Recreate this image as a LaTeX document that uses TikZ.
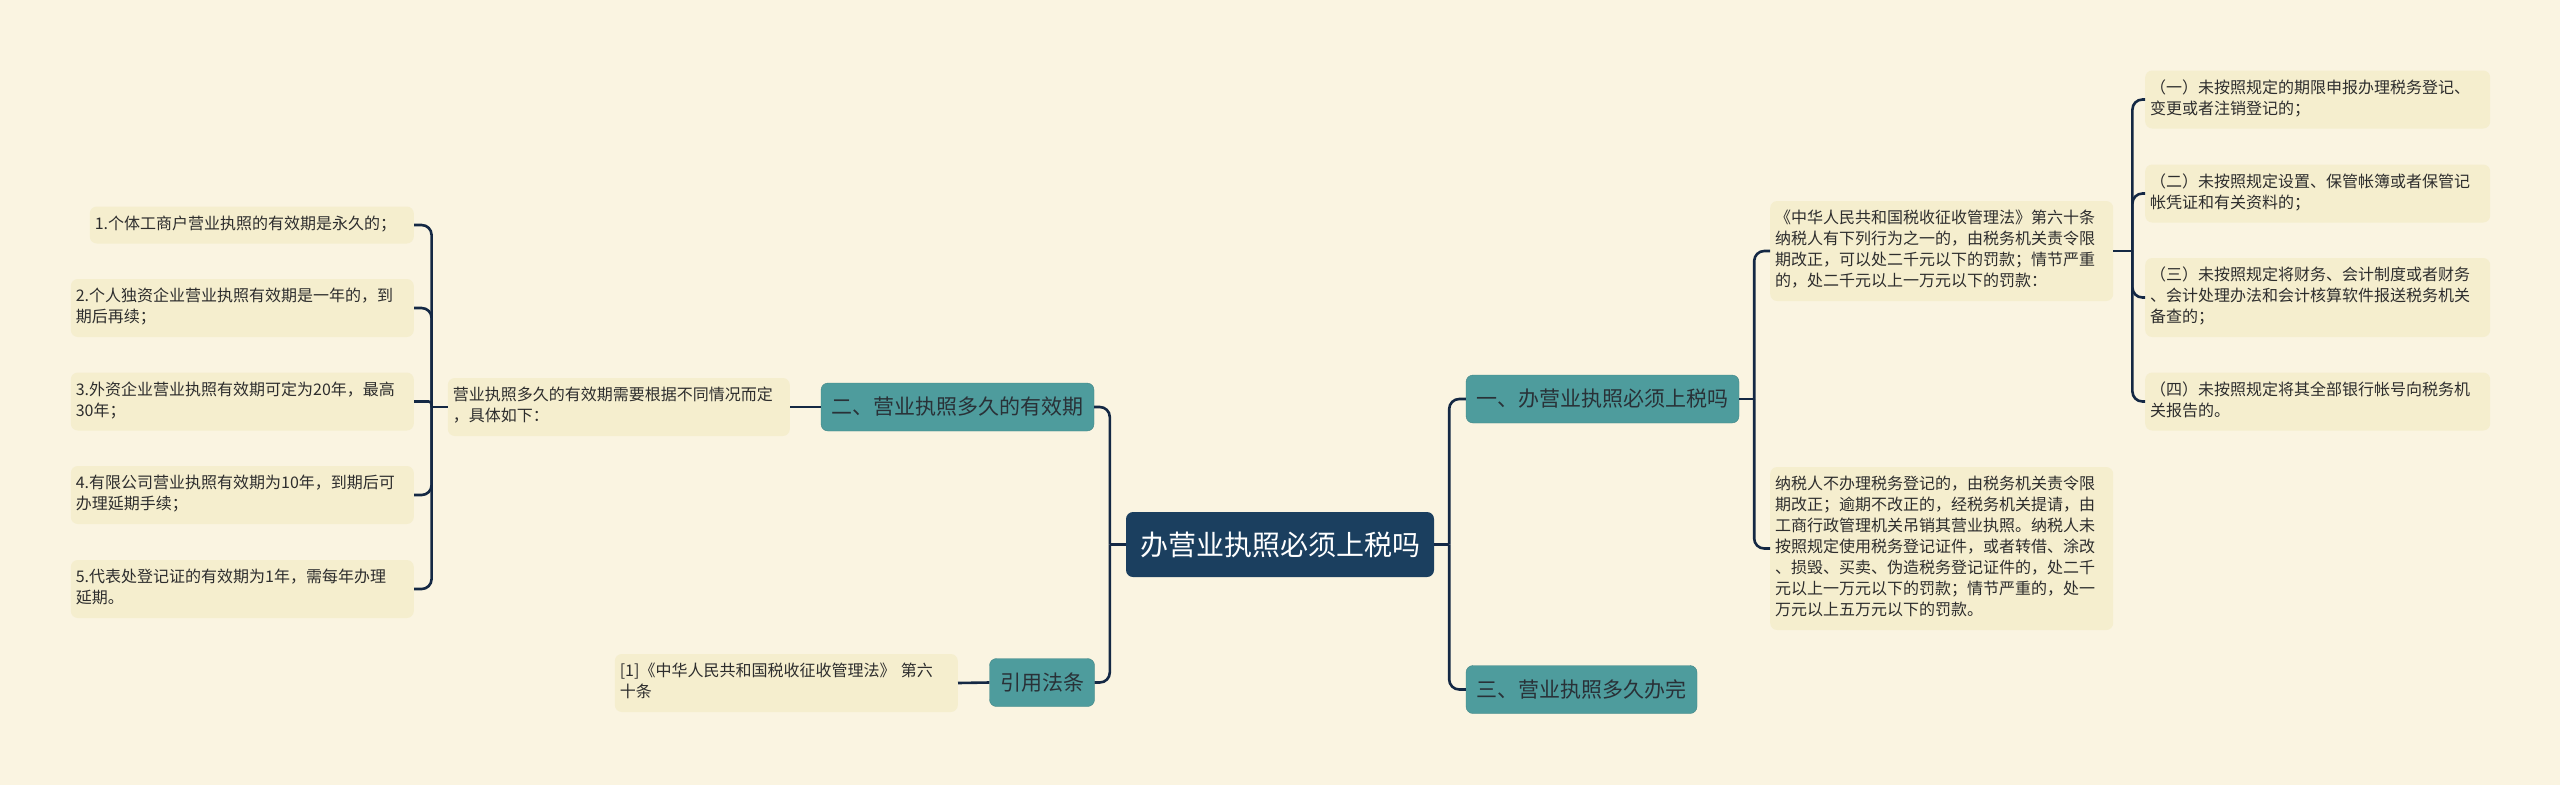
\documentclass[tikz,border=0pt]{standalone}
\usepackage{fontspec}
\setmainfont{Noto Sans CJK SC}
\usepackage{tikz}
\usepackage{xcolor}
\definecolor{ColBg}{RGB}{250,244,225}
\definecolor{ColLeaf}{RGB}{245,238,206}
\definecolor{ColTeal}{RGB}{78,156,157}
\definecolor{ColRoot}{RGB}{27,63,95}
\definecolor{ColLine}{RGB}{20,40,68}
\definecolor{ColText}{RGB}{45,45,45}
\tikzstyle{NodeRoot}=[rectangle,rounded corners=7pt,fill=ColRoot,text=white,minimum height=65pt,
inner xsep=14pt,font=\fontsize{28}{34}\selectfont]
\tikzstyle{NodeBranch}=[rectangle,rounded corners=7pt,fill=ColTeal,draw=ColTeal!85!black,
text=ColText!80!ColRoot,minimum height=48pt,inner xsep=10.5pt,font=\fontsize{21}{26}\selectfont]
\tikzstyle{NodeLeaf}=[rectangle,rounded corners=7pt,fill=ColLeaf,text=ColText,align=left,
text width=333pt,inner xsep=5pt,inner ysep=8pt,font=\fontsize{16}{21}\selectfont,
execute at begin node=\strut,execute at end node=\strut]
\tikzstyle{EdgeMap}=[ColLine,line width=2.6pt,rounded corners=10pt]

\begin{document}
\begin{tikzpicture}[x=1pt,y=-1pt]
        \fill[ColBg](0,0)rectangle(2560,785);
        % centre and main branches
        \node[NodeRoot](root)at(1280,544.5){办营业执照必须上税吗};
        \node[NodeBranch](valid)at(957.5,407){二、营业执照多久的有效期};
        \node[NodeBranch](cite)at(1042,682.5){引用法条};
        \node[NodeBranch](tax)at(1602.5,399){一、办营业执照必须上税吗};
        \node[NodeBranch](time)at(1581.5,689.5){三、营业执照多久办完};
        % left side
        \node[NodeLeaf,anchor=east,text width=332pt](validtxt)at(790,407){营业执照多久的有效期需要根据不同情况而定\\，具体如下：};
        \node[NodeLeaf,anchor=east,text width=314pt](case1)at(414,225){1.个体工商户营业执照的有效期是永久的；};
        \node[NodeLeaf,anchor=east](case2)at(414,308){2.个人独资企业营业执照有效期是一年的，到\\期后再续；};
        \node[NodeLeaf,anchor=east](case3)at(414,401.5){3.外资企业营业执照有效期可定为20年，最高\\30年；};
        \node[NodeLeaf,anchor=east](case4)at(414,495){4.有限公司营业执照有效期为10年，到期后可\\办理延期手续；};
        \node[NodeLeaf,anchor=east](case5)at(414,589){5.代表处登记证的有效期为1年，需每年办理\\延期。};
        \node[NodeLeaf,anchor=east](citetxt)at(958,683){[1]《中华人民共和国税收征收管理法》 第六\\十条};
        % right side
        \node[NodeLeaf,anchor=west](taxlaw)at(1770,251){《中华人民共和国税收征收管理法》第六十条\\纳税人有下列行为之一的，由税务机关责令限\\期改正，可以处二千元以下的罚款；情节严重\\的，处二千元以上一万元以下的罚款：};
        \node[NodeLeaf,anchor=west](taxreg)at(1770,548.5){纳税人不办理税务登记的，由税务机关责令限\\期改正；逾期不改正的，经税务机关提请，由\\工商行政管理机关吊销其营业执照。纳税人未\\按照规定使用税务登记证件，或者转借、涂改\\、损毁、买卖、伪造税务登记证件的，处二千\\元以上一万元以下的罚款；情节严重的，处一\\万元以上五万元以下的罚款。};
        \node[NodeLeaf,anchor=west,text width=335pt](item1)at(2145,99.5){（一）未按照规定的期限申报办理税务登记、\\变更或者注销登记的；};
        \node[NodeLeaf,anchor=west,text width=335pt](item2)at(2145,193.5){（二）未按照规定设置、保管帐簿或者保管记\\帐凭证和有关资料的；};
        \node[NodeLeaf,anchor=west,text width=335pt](item3)at(2145,297.5){（三）未按照规定将财务、会计制度或者财务\\、会计处理办法和会计核算软件报送税务机关\\备查的；};
        \node[NodeLeaf,anchor=west,text width=335pt](item4)at(2145,401.5){（四）未按照规定将其全部银行帐号向税务机\\关报告的。};
        % brackets
        \coordinate(rootL)at([xshift=-16pt]root.west);
        \coordinate(rootR)at([xshift=15pt]root.east);
        \coordinate(taxR)at([xshift=15pt]tax.east);
        \coordinate(lawR)at([xshift=19pt]taxlaw.east);
        \coordinate(validL)at([xshift=-16pt]validtxt.west);
        \draw[EdgeMap](root.west)--(rootL);
        \draw[EdgeMap](rootL)|-(valid.east);
        \draw[EdgeMap](rootL)|-(cite.east);
        \draw[EdgeMap](root.east)--(rootR);
        \draw[EdgeMap](rootR)|-(tax.west);
        \draw[EdgeMap](rootR)|-(time.west);
        \draw[EdgeMap](valid.west)--(validtxt.east);
        \draw[EdgeMap](cite.west)--(citetxt.east);
        \draw[EdgeMap](validtxt.west)--(validL);
        \foreach \n in {case1,case2,case4,case5}
            \draw[EdgeMap](validL)|-(\n.east);
        \draw[EdgeMap,rounded corners=3pt](validL)|-(case3.east);
        \draw[EdgeMap](tax.east)--(taxR);
        \draw[EdgeMap](taxR)|-(taxlaw.west);
        \draw[EdgeMap](taxR)|-(taxreg.west);
        \draw[EdgeMap](taxlaw.east)--(lawR);
        \foreach \n in {item1,item2,item3,item4}
            \draw[EdgeMap](lawR)|-(\n.west);
    \end{tikzpicture}
\end{document}
